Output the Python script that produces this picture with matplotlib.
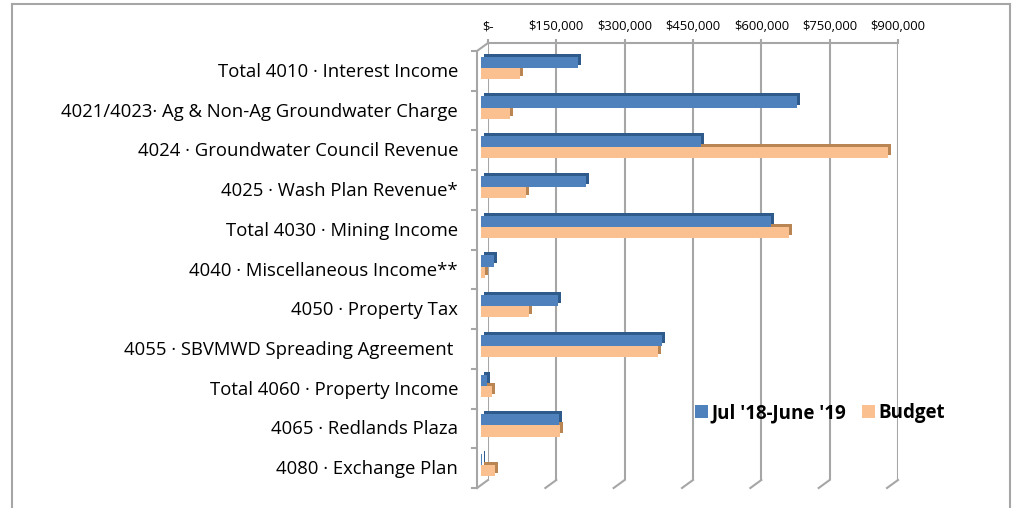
import matplotlib
matplotlib.use("Agg")
import matplotlib.pyplot as plt
import matplotlib.transforms as mtransforms
import matplotlib.patheffects as pe
from matplotlib.lines import Line2D
from matplotlib.patches import Patch

categories = [
    "Total 4010 · Interest Income",
    "4021/4023· Ag & Non-Ag Groundwater Charge",
    "4024 · Groundwater Council Revenue",
    "4025 · Wash Plan Revenue*",
    "Total 4030 · Mining Income",
    "4040 · Miscellaneous Income**",
    "4050 · Property Tax",
    "4055 · SBVMWD Spreading Agreement ",
    "Total 4060 · Property Income",
    "4065 · Redlands Plaza",
    "4080 · Exchange Plan",
]
actual = [213000, 694000, 483000, 230000, 637000, 29000, 169000, 397000, 13000, 171000, 3000]
budget = [86000, 64000, 893000, 99000, 676000, 9000, 105000, 389000, 24000, 173000, 31000]
series_names = ["Jul '18-June '19", "Budget"]
tick_values = [0, 150000, 300000, 450000, 600000, 750000, 900000]
tick_labels = ["$-", "$150,000", "$300,000", "$450,000", "$600,000", "$750,000", "$900,000"]

W, H, DPI = 1015, 508, 100
BLUE, BLUE_D = "#4F81BD", "#2F5A8C"
ORANGE, ORANGE_D = "#FAC090", "#B98552"
GRID = "#A6A6A6"
FONT = "Open Sans"

fig = plt.figure(figsize=(W / DPI, H / DPI), dpi=DPI)

# back plane axes (pixels)
L, R, T, B = 488, 898, 43, 480
ax = fig.add_axes([L / W, 1 - B / H, (R - L) / W, (B - T) / H])
ax.set_xlim(0, 900000)
ax.set_ylim(len(categories) - 0.5, -0.5)

def off(dx, dy):
    return mtransforms.ScaledTranslation(dx / DPI, -dy / DPI, fig.dpi_scale_trans)

bar_tr = ax.transData + off(-7, 5)
ys = list(range(len(categories)))
h = 0.28
ax.barh([y + h / 2 for y in ys], budget, height=h, color=ORANGE, transform=bar_tr, clip_on=False,
        path_effects=[pe.withSimplePatchShadow(offset=(2.2, 2.2), shadow_rgbFace=ORANGE_D, alpha=1), pe.Normal()],
        zorder=3)
ax.barh([y - h / 2 for y in ys], actual, height=h, color=BLUE, transform=bar_tr, clip_on=False,
        path_effects=[pe.withSimplePatchShadow(offset=(2.2, 2.2), shadow_rgbFace=BLUE_D, alpha=1), pe.Normal()],
        zorder=4)

# axes styling
for s in ["left", "right", "bottom"]:
    ax.spines[s].set_visible(False)
ax.spines["top"].set_color(GRID)
ax.spines["top"].set_linewidth(1.5)
ax.xaxis.tick_top()
ax.set_xticks(tick_values)
ax.set_xticklabels(tick_labels, fontsize=9.4, family=FONT)
ax.tick_params(axis="x", length=3, width=1.5, color=GRID, pad=4)
ax.set_yticks([])
ax.grid(axis="x", color=GRID, linewidth=1.5, zorder=0)
ax.set_axisbelow(True)

xa = ax.get_xaxis_transform()
ya = ax.get_yaxis_transform()

def fig_line(p0, p1):
    fig.add_artist(Line2D([p0[0] / W, p1[0] / W], [p0[1] / H, p1[1] / H],
                          transform=fig.transFigure, color=GRID, lw=1.5))

# slants from back bottom to front bottom for each gridline
for v in tick_values:
    p0 = xa.transform((v, 0))
    fig_line(p0, p0 + [-11, -8])
# top-left corner slant
p0 = ax.transAxes.transform((0, 1))
fig_line(p0, p0 + [-11, -8])
# front left axis with category tick marks
front_tr = ax.transAxes + off(-11, 8)
ax.add_line(Line2D([0, 0], [0, 1], transform=front_tr, color=GRID, lw=1.5, clip_on=False))
front_ya = ya + off(-11, 8)
for b in [y - 0.5 for y in ys] + [ys[-1] + 0.5]:
    pa = front_ya.transform((0, b))
    fig_line((pa[0] - 5, pa[1]), (pa[0], pa[1]))

# category labels
for y, c in zip(ys, categories):
    ax.text(0, y, c, transform=ya + off(-30, 9), ha="right", va="center",
            fontsize=13.3, family=FONT, color="black")

# legend
handles = [Patch(facecolor=BLUE, edgecolor="none"), Patch(facecolor=ORANGE, edgecolor="none")]
fig.legend(handles, series_names, loc="center", bbox_to_anchor=(820 / W, 1 - 413 / H),
           ncol=2, frameon=False, handlelength=0.7, handleheight=0.7, handletextpad=0.2,
           columnspacing=0.8, prop={"family": FONT, "weight": "bold", "size": 13.5})

# outer frame
fig.add_artist(Line2D([12 / W, 12 / W], [0, 1 - 4 / H], transform=fig.transFigure, color=GRID, lw=1.5))
fig.add_artist(Line2D([12 / W, 1010 / W], [1 - 4 / H, 1 - 4 / H], transform=fig.transFigure, color=GRID, lw=1.5))
fig.add_artist(Line2D([1010 / W, 1010 / W], [0, 1 - 4 / H], transform=fig.transFigure, color=GRID, lw=1.5))

fig.savefig("out.png", dpi=DPI)
